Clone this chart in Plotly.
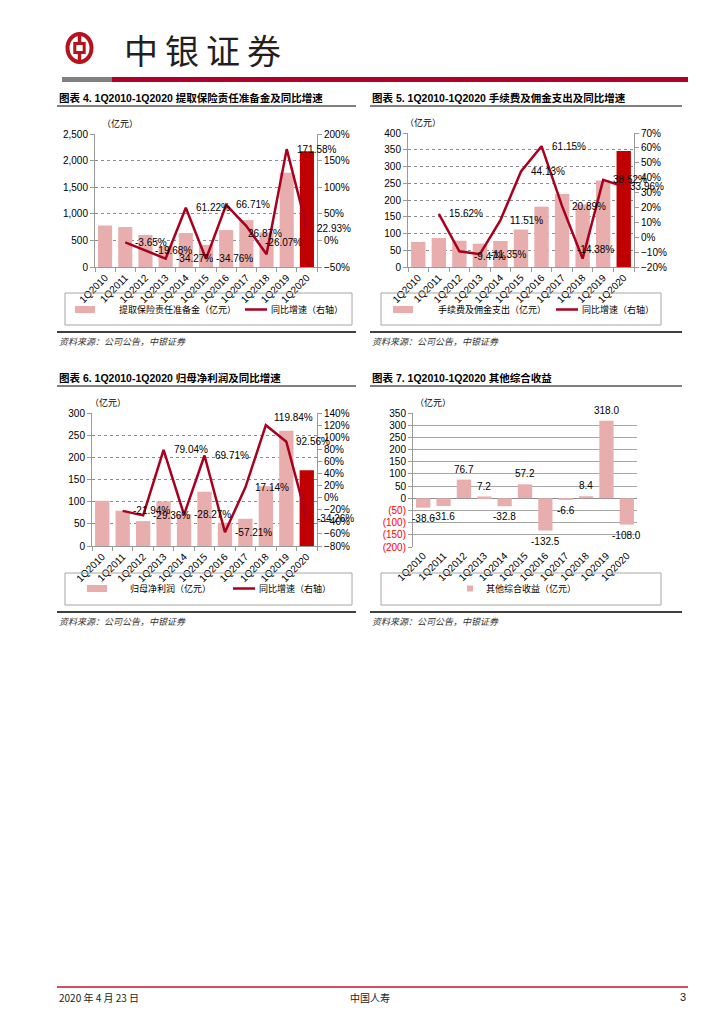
import plotly.graph_objects as go

W, H = 724, 1024

# ---------------- data ----------------
quarters = ['1Q2010', '1Q2011', '1Q2012', '1Q2013', '1Q2014', '1Q2015',
            '1Q2016', '1Q2017', '1Q2018', '1Q2019', '1Q2020']

reserve = [780, 751, 603, 396, 639, 417, 695, 882, 652, 1771, 2177]
reserve_yoy = [None, -3.65, -19.68, -34.27, 61.22, -34.76, 66.71, 26.87, -26.07, 171.58, 22.93]

commission = [75, 86.7, 78.5, 69.6, 77.6, 111.8, 180.2, 217.9, 186.5, 258.4, 346.2]
commission_yoy = [None, 15.62, -9.47, -11.35, 11.51, 44.13, 61.15, 20.89, -14.38, 38.52, 33.96]

profit = [102, 79.6, 56.2, 100.6, 72.2, 122.5, 52.4, 61.4, 135.0, 260.0, 171.0]
profit_yoy = [None, -21.94, -29.36, 79.04, -28.27, 69.71, -57.21, 17.14, 119.84, 92.56, -34.26]

oci = [-38.6, -31.6, 76.7, 7.2, -32.8, 57.2, -132.5, -6.6, 8.4, 318.0, -108.0]

oci_ticks = list(range(-200, 351, 50))
oci_ticktext = [f'{v}' if v >= 0 else f'<span style="color:#FF0000">({-v})</span>' for v in oci_ticks]

# ---------------- styles ----------------
PINK = '#E8AEAE'
DARK = '#C00000'
LINE = '#A8001E'
GRID = '#8C8C8C'
AXIS = '#9A9A9A'
NUM_FONT = 'Arial, "Liberation Sans", sans-serif'
CJK_FONT = '"Noto Sans CJK SC", sans-serif'
TITLE_FONT = 'Arial, "Liberation Sans", "Noto Sans CJK SC", sans-serif'

CAT_RANGE = [-0.5, len(quarters) - 0.5]


def X(px):
    return px / W


def Y(py):
    return 1 - py / H


fig = go.Figure()
layout = {}
annotations = []
shapes = []


def axis_key(ref, kind):
    return kind + 'axis' + ('' if len(ref) == 1 else ref[1:])


def num_font(size=10, color='black'):
    return dict(family=NUM_FONT, size=size, color=color)


def combo(xa, ya, ya2, values, yoy, xdom, ydom, lrange, ldtick, rrange, rdtick, tweaks):
    colors = [PINK] * (len(values) - 1) + [DARK]
    fig.add_trace(go.Bar(x=quarters, y=values, xaxis=xa, yaxis=ya,
                         marker=dict(color=colors, line=dict(width=0)),
                         showlegend=False, hoverinfo='skip'))
    fig.add_trace(go.Scatter(x=quarters, y=yoy, xaxis=xa, yaxis=ya2, mode='lines',
                             line=dict(color=LINE, width=2.5), connectgaps=False,
                             showlegend=False, hoverinfo='skip'))
    layout[axis_key(xa, 'x')] = dict(
        domain=[X(xdom[0]), X(xdom[1])], anchor=ya, type='category', range=CAT_RANGE,
        tickangle=-45, tickfont=num_font(10), showline=True, linecolor=AXIS,
        ticks='outside', tickson='boundaries', ticklen=4, tickcolor=AXIS,
        showgrid=False, fixedrange=True, automargin=False)
    layout[axis_key(ya, 'y')] = dict(
        domain=[Y(ydom[1]), Y(ydom[0])], anchor=xa, range=lrange, dtick=ldtick,
        tickformat=',', showline=True, linecolor=AXIS, ticks='outside', ticklen=4,
        tickcolor=AXIS, showgrid=True, gridcolor=GRID, griddash='dot', gridwidth=1,
        zeroline=False, tickfont=num_font(10), fixedrange=True, automargin=False)
    layout[axis_key(ya2, 'y')] = dict(
        overlaying=ya, side='right', anchor=xa, range=rrange, dtick=rdtick, tick0=0,
        ticksuffix='%', showline=True, linecolor=AXIS, ticks='outside', ticklen=4,
        tickcolor=AXIS, showgrid=False, zeroline=False, tickfont=num_font(10),
        fixedrange=True, automargin=False)
    for i, v in enumerate(yoy):
        if v is None:
            continue
        dx, dy = tweaks.get(i, (0, 0))
        annotations.append(dict(
            x=quarters[i], y=v, xref=xa, yref=ya2, text=f'{v:.2f}%', showarrow=False,
            xanchor='left', yanchor='middle', xshift=8 + dx, yshift=dy,
            font=num_font(10)))


# Chart 4
combo('x', 'y', 'y2', reserve, reserve_yoy, (95, 317), (134, 267),
      [0, 2500], 500, [-50, 200], 50, {7: (-8, -7), 8: (-12, 12)})
# Chart 5
combo('x2', 'y3', 'y4', commission, commission_yoy, (408, 634), (133, 267),
      [0, 400], 50, [-20, 70], 10, {2: (5, -5), 8: (-16, 9), 10: (-4, 0)})
# Chart 6
combo('x3', 'y5', 'y6', profit, profit_yoy, (92, 317), (413, 546),
      [0, 300], 50, [-80, 140], 20, {8: (-2, 8)})

# Chart 7
fig.add_trace(go.Bar(x=quarters, y=oci, xaxis='x4', yaxis='y7',
                     marker=dict(color=PINK, line=dict(width=0)),
                     showlegend=False, hoverinfo='skip'))
layout['xaxis4'] = dict(domain=[X(413), X(637)], anchor='y7', type='category',
                        range=CAT_RANGE, tickangle=-45, tickfont=num_font(10),
                        showline=False, ticks='', showgrid=False, fixedrange=True,
                        automargin=False)
layout['yaxis7'] = dict(domain=[Y(547), Y(413)], anchor='x4', range=[-200, 350],
                        tickvals=oci_ticks, ticktext=oci_ticktext, showline=True,
                        linecolor=AXIS, ticks='outside', ticklen=4, tickcolor=AXIS,
                        showgrid=True, gridcolor='#A6A6A6', gridwidth=1,
                        zeroline=True, zerolinecolor='#8C8C8C', zerolinewidth=1,
                        tickfont=num_font(10), fixedrange=True, automargin=False)
for i, v in enumerate(oci):
    annotations.append(dict(
        x=quarters[i], y=v, xref='x4', yref='y7', text=f'{v:.1f}', showarrow=False,
        xanchor='center', yanchor='bottom' if v >= 0 else 'top',
        yshift=3 if v >= 0 else -3, font=num_font(10)))

# ---------------- page furniture ----------------
def text(px, py, s, size=9, family=CJK_FONT, anchor='left', color='black', **kw):
    annotations.append(dict(x=X(px), y=Y(py), xref='paper', yref='paper', text=s,
                            showarrow=False, xanchor=anchor, yanchor='middle',
                            font=dict(family=family, size=size, color=color, **kw)))


def hline(x0, x1, py, color='black', width=1):
    shapes.append(dict(type='line', xref='paper', yref='paper', x0=X(x0), x1=X(x1),
                       y0=Y(py), y1=Y(py), line=dict(color=color, width=width)))


def rect(x0, x1, y0, y1, fill=None, line_color=None, lw=1):
    shapes.append(dict(type='rect', xref='paper', yref='paper', x0=X(x0), x1=X(x1),
                       y0=Y(y1), y1=Y(y0), fillcolor=fill or 'rgba(0,0,0,0)',
                       line=dict(color=line_color or 'rgba(0,0,0,0)', width=lw if line_color else 0)))


# Header logo
RED = '#B5121B'
shapes.append(dict(type='circle', xref='paper', yref='paper', x0=X(67.5), x1=X(91.5),
                   y0=Y(62), y1=Y(34), line=dict(color=RED, width=4)))
rect(74.8, 84.2, 43.5, 52.5, line_color=RED, lw=3)
shapes.append(dict(type='line', xref='paper', yref='paper', x0=X(79.5), x1=X(79.5),
                   y0=Y(34), y1=Y(43.5), line=dict(color=RED, width=3.5)))
shapes.append(dict(type='line', xref='paper', yref='paper', x0=X(79.5), x1=X(79.5),
                   y0=Y(52.5), y1=Y(62), line=dict(color=RED, width=3.5)))
for cx, ch in zip([141, 182, 223, 264], '中银证券'):
    text(cx, 49, ch, size=34, anchor='center', color='#231F20')
rect(62, 112, 77, 82, fill='#808080')
rect(112, 688, 77, 82, fill='#B0002A')

# Titles
titles = [
    (57, 98, '图表 4. 1Q2010-1Q2020 提取保险责任准备金及同比增速'),
    (370, 98, '图表 5. 1Q2010-1Q2020 手续费及佣金支出及同比增速'),
    (57, 378, '图表 6. 1Q2010-1Q2020 归母净利润及同比增速'),
    (370, 378, '图表 7. 1Q2010-1Q2020 其他综合收益'),
]
for tx, ty, t in titles:
    text(tx, ty, f'<b>{t}</b>', size=10.5, family=TITLE_FONT)
hline(57, 356, 106)
hline(370, 682, 106)
hline(57, 356, 386)
hline(370, 682, 386)

# unit labels
for ux, uy in [(100, 123), (403, 122), (88, 402), (413, 402)]:
    text(ux, uy, '（亿元）', size=9)

# legends
rect(65, 352, 293, 325, line_color='#A6A6A6')
rect(381, 661, 293, 325, line_color='#A6A6A6')
rect(65, 352, 573, 605, line_color='#A6A6A6')
rect(381, 661, 573, 605, line_color='#A6A6A6')

rect(75, 95, 306, 313, fill=PINK)
text(117, 309.5, '提取保险责任准备金（亿元）')
hline(245, 267, 309.5, color=LINE, width=2.5)
text(269, 309.5, '同比增速（右轴）')

rect(393, 413, 306, 313, fill=PINK)
text(436, 309.5, '手续费及佣金支出（亿元）')
hline(556, 578, 309.5, color=LINE, width=2.5)
text(580, 309.5, '同比增速（右轴）')

rect(87, 107, 585, 592, fill=PINK)
text(128, 588.5, '归母净利润（亿元）')
hline(233, 255, 588.5, color=LINE, width=2.5)
text(257, 588.5, '同比增速（右轴）')

rect(467, 473, 585.5, 591.5, fill=PINK)
text(484, 588.5, '其他综合收益（亿元）')

# sources
hline(57, 356, 332, width=1.5)
hline(370, 682, 332, width=1.5)
hline(57, 356, 612, width=1.5)
hline(370, 682, 612, width=1.5)
for sx, sy in [(57, 341), (370, 341), (57, 621), (370, 621)]:
    text(sx, sy, '资料来源：公司公告，中银证券', size=9, style='italic', color='#333333')

# footer
hline(57, 688, 987, color='#C8102E', width=1.5)
text(57, 997, '2020 年 4 月 23 日', size=10, color='#222222')
text(370, 997, '中国人寿', size=10, anchor='center', color='#222222')
text(688, 997, '3', size=11, family=NUM_FONT, anchor='right', color='#222222')

fig.update_layout(
    width=W, height=H, margin=dict(l=0, r=0, t=0, b=0, pad=0, autoexpand=False),
    paper_bgcolor='white', plot_bgcolor='white', bargap=0.3,
    hovermode=False, showlegend=False,
    font=dict(family=NUM_FONT, size=10, color='black'),
    annotations=annotations, shapes=shapes,
    **layout,
)

fig.write_html('out.html', config={'displayModeBar': False},
               post_script="document.body.style.margin='0px';")
